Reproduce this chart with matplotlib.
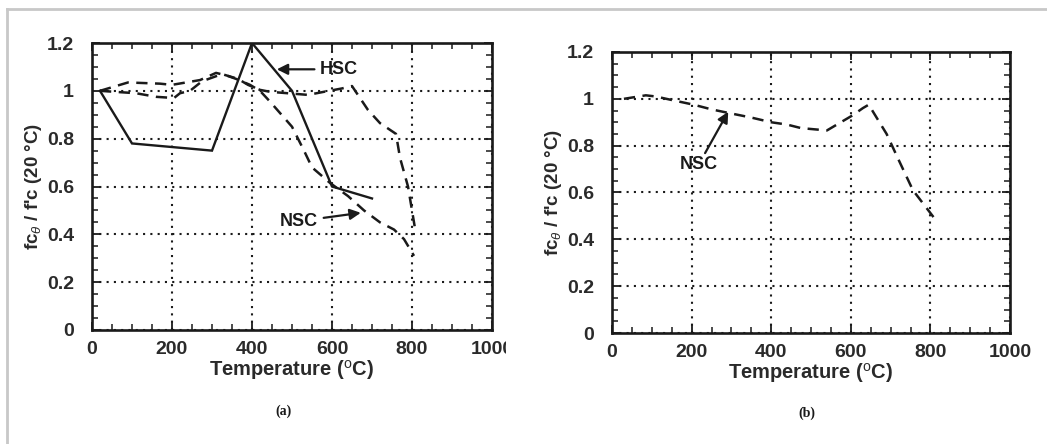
import matplotlib
matplotlib.use("Agg")
import matplotlib.pyplot as plt
from matplotlib.lines import Line2D
from matplotlib.transforms import Bbox, TransformedBbox
from matplotlib.ticker import MultipleLocator, FixedLocator

plt.rcParams['font.family'] = ['Liberation Sans', 'DejaVu Sans']
plt.rcParams['mathtext.fontset'] = 'custom'
plt.rcParams['mathtext.rm'] = 'Liberation Sans'
plt.rcParams['mathtext.it'] = 'Liberation Sans:italic'
plt.rcParams['mathtext.bf'] = 'Liberation Sans:bold'

# ---- data (panel a) ----
hsc_a_x = [20, 100, 300, 400, 500, 600, 700]
hsc_a_y = [1.0, 0.78, 0.75, 1.2, 1.0, 0.6, 0.55]

nsc1_a_x = [20, 90, 170, 200, 270, 310, 335, 360, 395, 420, 445, 500, 530, 550, 595, 640, 680, 720, 755, 780, 805]
nsc1_a_y = [1.0, 1.035, 1.03, 1.025, 1.045, 1.075, 1.065, 1.05, 1.025, 1.0, 0.955, 0.85, 0.75, 0.68, 0.615, 0.56, 0.5, 0.45, 0.42, 0.38, 0.31]

nsc2_a_x = [20, 110, 160, 205, 220, 245, 275, 325, 365, 390, 420, 445, 540, 580, 625, 650, 690, 720, 760, 770, 790, 808]
nsc2_a_y = [1.0, 0.99, 0.975, 0.97, 0.99, 1.0, 1.04, 1.07, 1.05, 1.025, 1.004, 0.996, 0.983, 0.996, 1.01, 1.02, 0.92, 0.865, 0.82, 0.72, 0.6, 0.42]

# ---- data (panel b) ----
nsc_b_x = [30, 85, 110, 150, 205, 250, 292, 350, 400, 440, 475, 540, 575, 605, 630, 645, 690, 720, 756, 810]
nsc_b_y = [1.0, 1.015, 1.01, 0.995, 0.975, 0.955, 0.94, 0.92, 0.9, 0.89, 0.875, 0.865, 0.9, 0.93, 0.96, 0.975, 0.85, 0.74, 0.61, 0.49]

x_ticks = [0, 200, 400, 600, 800, 1000]
x_tick_labels = ['0', '200', '400', '600', '800', '1000']
y_ticks = [0, 0.2, 0.4, 0.6, 0.8, 1.0, 1.2]
y_tick_labels = ['0', '0.2', '0.4', '0.6', '0.8', '1', '1.2']

W, H = 1047, 444
fig = plt.figure(figsize=(W / 100, H / 100), dpi=100)
fig.patch.set_facecolor('white')

ax_a = fig.add_axes([92 / W, 1 - 330 / H, 400 / W, 287 / H])
ax_b = fig.add_axes([612 / W, 1 - 333 / H, 398 / W, 281 / H])

ink = '#1a1a1a'
tick_font = dict(fontsize=14, fontweight='bold', color='#2a2a2a')
ylabel = r"fc$_{\theta}$ / f'c (20 °C)"
xlabel = r"Temperature ($^{\mathrm{o}}$C)"

for ax in (ax_a, ax_b):
    ax.set_xlim(0, 1000)
    ax.set_ylim(0, 1.2)
    ax.xaxis.set_major_locator(FixedLocator(x_ticks))
    ax.yaxis.set_major_locator(FixedLocator(y_ticks))
    ax.set_xticklabels(x_tick_labels, **tick_font)
    ax.set_yticklabels(y_tick_labels, **tick_font)
    ax.xaxis.set_minor_locator(MultipleLocator(50))
    ax.yaxis.set_minor_locator(MultipleLocator(0.05))
    ax.tick_params(which='both', direction='in', top=True, right=True, color=ink)
    ax.tick_params(which='major', length=6, width=1.3)
    ax.tick_params(axis='x', which='major', pad=8)
    ax.tick_params(axis='y', which='major', pad=13)
    ax.tick_params(which='minor', length=4, width=1.1)
    ax.grid(True, which='major', linestyle=(0, (1, 2.5)), linewidth=1.5, color=ink)
    for s in ax.spines.values():
        s.set_linewidth(1.9)
        s.set_color(ink)
    ax.set_xlabel(xlabel, fontsize=14.5, fontweight='bold', color='#2a2a2a', labelpad=0)
    ax.set_ylabel(ylabel, fontsize=13.5, fontweight='bold', color='#2a2a2a', labelpad=2)
    ax.set_axisbelow(True)

dash = (0, (4.5, 3))
# panel a lines
ax_a.plot(hsc_a_x, hsc_a_y, color=ink, linewidth=1.7, solid_joinstyle='miter')
ax_a.plot(nsc1_a_x, nsc1_a_y, color=ink, linewidth=1.8, linestyle=dash)
ax_a.plot(nsc2_a_x, nsc2_a_y, color=ink, linewidth=1.8, linestyle=dash)

ax_a.annotate('HSC', xy=(462, 1.09), xytext=(570, 1.09), fontsize=13, fontweight='bold',
              color=ink, va='center', ha='left',
              arrowprops=dict(arrowstyle='-|>', color=ink, lw=1.6, mutation_scale=16,
                              shrinkA=2, shrinkB=0))
ax_a.annotate('NSC', xy=(672, 0.49), xytext=(470, 0.455), fontsize=13, fontweight='bold',
              color=ink, va='center', ha='left',
              arrowprops=dict(arrowstyle='-|>', color=ink, lw=1.6, mutation_scale=16,
                              shrinkA=2, shrinkB=0))

# panel b line
ax_b.plot(nsc_b_x, nsc_b_y, color=ink, linewidth=1.8, linestyle=dash)
ax_b.annotate('NSC', xy=(292, 0.945), xytext=(218, 0.72), fontsize=13, fontweight='bold',
              color=ink, va='center', ha='center',
              arrowprops=dict(arrowstyle='-|>', color=ink, lw=1.6, mutation_scale=16,
                              shrinkA=0, shrinkB=0))

# panel captions
fig.text(283 / W, 1 - 411 / H, '(a)', fontsize=10, fontweight='bold', ha='center', va='center',
         color=ink, family=['Liberation Serif', 'DejaVu Serif'])
fig.text(807 / W, 1 - 413 / H, '(b)', fontsize=10, fontweight='bold', ha='center', va='center',
         color=ink, family=['Liberation Serif', 'DejaVu Serif'])

# the left panel image is cropped at its right edge
clip = TransformedBbox(Bbox([[0, 0], [506 / W, 1]]), fig.transFigure)
for lab in ax_a.get_xticklabels():
    lab.set_clip_box(clip)
    lab.set_clip_on(True)

# light grey frame at top and left
fig.add_artist(Line2D([7 / W, 7 / W], [0, 1 - 9 / H], transform=fig.transFigure, color='#c8c8c8', linewidth=2))
fig.add_artist(Line2D([7 / W, 1], [1 - 9 / H, 1 - 9 / H], transform=fig.transFigure, color='#c8c8c8', linewidth=2))

fig.savefig('out.png', dpi=100, facecolor='white')
